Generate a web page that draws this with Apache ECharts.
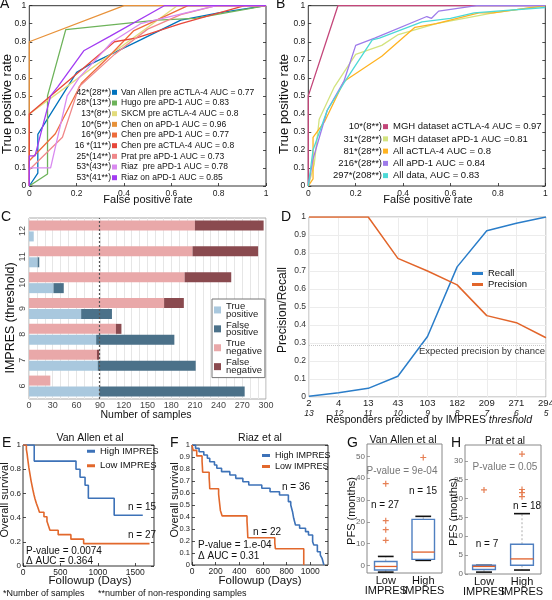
<!DOCTYPE html>
<html><head><meta charset="utf-8">
<script src="https://cdn.jsdelivr.net/npm/echarts@6/dist/echarts.min.js"></script>
<style>html,body{margin:0;padding:0;background:#fff}#c{width:552px;height:600px}</style>
</head><body><div id="c"></div>
<script>
const FONT = '"Liberation Sans", Arial, Helvetica, sans-serif';

// ---------- Panel A : ROC per dataset ----------
const namesA = ['Van Allen pre aCTLA-4 AUC = 0.77','Hugo pre aPD-1 AUC = 0.83','SKCM pre aCTLA-4 AUC = 0.8','Chen on aPD-1 AUC = 0.96','Chen pre aPD-1 AUC = 0.77','Chen pre aCTLA-4 AUC = 0.8','Prat pre aPD-1 AUC = 0.73','Riaz  pre aPD-1 AUC = 0.78','Riaz on aPD-1 AUC = 0.85'];
const prefixA = ['42*(28**)','28*(13**)','13*(8**)','10*(5**)','16*(9**)','16 *(11**)','25*(14**)','53*(43**)','53*(41**)'];
const colorsA = ['#0072BD','#6DB35A','#E3DC7C','#E8923A','#EE6C3B','#E8473A','#F0888A','#D98AF0','#A23BF2'];
const rocVanAllen = [[0,0],[0.036,0.071],[0.036,0.286],[0.2,0.63],[0.25,0.67],[0.47,0.81],[0.64,0.92],[0.8,0.96],[1,1]];
const rocHugo = [[0,0],[0.077,0.067],[0.077,0.5],[0.154,0.867],[0.54,0.92],[0.7,0.93],[1,1]];
const rocSKCM = [[0,0],[0,0.4],[0.625,1],[1,1]];
const rocChenOnPD1 = [[0,0],[0,0.8],[0.4,1],[1,1]];
const rocChenPrePD1 = [[0,0],[0,0.14],[0.11,0.29],[0.22,0.57],[0.33,0.71],[0.44,0.86],[0.67,1],[1,1]];
const rocChenPreCTLA4 = [[0,0],[0,0.4],[0.36,0.8],[0.45,0.82],[0.64,0.9],[0.91,1],[1,1]];
const rocPrat = [[0,0],[0,0.09],[0.07,0.18],[0.14,0.27],[0.21,0.55],[0.36,0.73],[0.5,0.87],[0.64,0.95],[0.79,1],[1,1]];
const rocRiazPre = [[0,0],[0,0.1],[0.09,0.1],[0.16,0.5],[0.21,0.6],[0.35,0.8],[0.47,0.9],[0.79,1],[1,1]];
const rocRiazOn = [[0,0],[0,0.167],[0.024,0.167],[0.09,0.5],[0.12,0.55],[0.23,0.75],[0.34,0.83],[0.57,1],[1,1]];
const rocA = [rocVanAllen, rocHugo, rocSKCM, rocChenOnPD1, rocChenPrePD1, rocChenPreCTLA4, rocPrat, rocRiazPre, rocRiazOn];

// ---------- Panel B : pooled ROC ----------
const namesB = ['MGH dataset aCTLA-4 AUC = 0.97','MGH dataset aPD-1 AUC =0.81','All aCTLA-4 AUC = 0.8','All aPD-1 AUC = 0.84','All data, AUC = 0.83'];
const prefixB = ['10*(8**)','31*(28**)','81*(28**)','216*(28**)','297*(208**)'];
const colorsB = ['#C4467A','#D3E37F','#FFB321','#9E7BEA','#4DD9D6'];
const rocMGHCTLA4 = [[0,0],[0,0.5],[0.125,1],[1,1]];
const rocMGHPD1 = [[0,0],[0.025,0.12],[0.046,0.37],[0.11,0.55],[0.2,0.73],[0.31,0.78],[0.38,0.84],[0.54,0.9],[0.78,0.96],[1,1]];
const rocAllCTLA4 = [[0,0],[0.02,0.04],[0.02,0.27],[0.07,0.36],[0.15,0.58],[0.31,0.72],[0.45,0.88],[0.54,0.9],[0.72,0.96],[0.78,0.96],[1,1]];
const rocAllPD1 = [[0,0],[0.02,0.15],[0.08,0.42],[0.15,0.58],[0.2,0.78],[0.28,0.82],[0.5,0.94],[0.52,0.93],[0.55,0.97],[0.71,1],[1,1]];
const rocAllData = [[0,0],[0.02,0.2],[0.08,0.42],[0.15,0.57],[0.27,0.81],[0.3,0.82],[0.48,0.91],[0.6,0.93],[0.7,0.96],[1,0.99]];
const rocB = [rocMGHCTLA4, rocMGHPD1, rocAllCTLA4, rocAllPD1, rocAllData];

// ---------- Panel C : confusion counts per threshold ----------
const thresholdsC = ['6','7','8','9','10','11','12'];
const truePositive  = [89, 87, 85, 66, 31, 11, 6];
const falsePositive = [184,124, 99, 39, 13, 2, 0];
const trueNegative  = [27, 86, 110, 171, 197, 207, 210];
const falseNegative = [0, 3, 7, 25, 59, 83, 87];
const respondersTotal = 89;

// ---------- Panel D : precision / recall ----------
const respondersPredicted = ['2','4','13','43','103','182','209','271','294'];
const thresholdsD = ['13','12','11','10','9','8','7','6','5'];
const recall    = [0.004, 0.024, 0.048, 0.115, 0.336, 0.723, 0.924, 0.965, 1.0];
const precision = [1, 1, 1, 0.77, 0.70, 0.623, 0.452, 0.413, 0.329];
const chancePrecision = 0.29;

// ---------- Panel E / F : Kaplan-Meier ----------
const kmVanAllenHigh = [[0,1],[150,0.867],[708,0.8],[762,0.733],[829,0.667],[873,0.56],[1218,0.42],[1600,0.42]];
const kmVanAllenLow = [[0,1],[45,0.963],[55,0.926],[62,0.889],[70,0.852],[78,0.815],[88,0.778],[98,0.741],[108,0.704],[120,0.667],[132,0.63],[145,0.593],[160,0.556],[178,0.519],[200,0.481],[220,0.444],[280,0.407],[320,0.37],[340,0.333],[360,0.296],[470,0.259],[640,0.222],[810,0.185],[1690,0.185]];
const kmRiazHigh = [[0,1],[30,0.972],[60,0.944],[100,0.917],[130,0.889],[150,0.861],[190,0.833],[210,0.806],[250,0.778],[320,0.75],[370,0.722],[430,0.694],[480,0.667],[590,0.639],[660,0.611],[740,0.583],[815,0.528],[835,0.5],[850,0.444],[860,0.389],[875,0.333],[910,0.306],[960,0.278],[985,0.25],[1020,0.194],[1030,0.167],[1060,0.111],[1085,0.083],[1100,0.056],[1115,0]];
const kmRiazLow = [[0,1],[10,0.955],[40,0.909],[85,0.864],[88,0.818],[90,0.773],[145,0.727],[148,0.682],[150,0.636],[225,0.591],[230,0.545],[235,0.5],[240,0.455],[255,0.409],[465,0.364],[468,0.318],[470,0.273],[472,0.227],[700,0.182],[705,0.136],[945,0]];

// ---------- Panel G / H : PFS boxplots ----------
const boxCats = ['Low\nIMPRES','High\nIMPRES'];
// [lower whisker, Q1, median, Q3, upper whisker]
const pfsVanAllenBox = [[-3.1,-2.1,-0.5,1.8,4.1],[2.3,2.75,6.1,21.1,22.5]];
const pfsVanAllenOut = [[0,11.5],[0,16.4],[0,20.5],[0,37.5],[1,49.5]];
const pfsPratBox = [[0.5,1.2,2.0,2.3,2.3],[1.05,2.3,4.0,7.9,16.0]];
const pfsPratOut = [[0,22.3],[1,31.8],[1,22.4],[1,21.6],[1,20.5]];

// ================= helpers =================
function merge(a,b){const r=Object.assign({},a);for(const k in b){const v=b[k];if(v&&typeof v==='object'&&!Array.isArray(v)&&r[k]&&typeof r[k]==='object'&&!Array.isArray(r[k]))r[k]=merge(r[k],v);else r[k]=v;}return r;}
const fmt = v => String(+(+v).toFixed(2));
function vAxis(grid,o){return merge({type:'value',gridIndex:grid,axisLine:{show:false},axisTick:{show:true,inside:true,length:3,lineStyle:{color:'#222',width:0.8}},axisLabel:{fontSize:8.5,color:'#222',margin:3,fontFamily:FONT,hideOverlap:false,formatter:fmt},splitLine:{show:false}},o);}
function mirror(grid,o){return merge({type:'value',gridIndex:grid,position:'right',axisLine:{show:false},axisTick:{show:true,inside:true,length:3,lineStyle:{color:'#222',width:0.8}},axisLabel:{show:false},splitLine:{show:false}},o);}
function txt(x,y,s,size,o){o=o||{};return {type:'text',x:x,y:y,rotation:o.rot||0,scaleX:o.sx||1,scaleY:o.sy||1,silent:true,z:50,style:{text:s,fontSize:size,fontFamily:FONT,fill:o.color||'#111',align:o.align||'left',verticalAlign:'middle',fontStyle:o.italic?'italic':'normal',rich:o.rich}};}
function lineSeries(name,data,color,xi,yi,extra){return merge({type:'line',name:name,data:data,xAxisIndex:xi,yAxisIndex:yi,showSymbol:false,symbol:'none',smooth:false,lineStyle:{color:color,width:1.3},itemStyle:{color:color},z:3},extra||{});}
function boxRender(params, api){
  const i=api.value(0);
  const pLo=api.coord([i,api.value(1)]),pQ1=api.coord([i,api.value(2)]),pMed=api.coord([i,api.value(3)]),pQ3=api.coord([i,api.value(4)]),pHi=api.coord([i,api.value(5)]);
  const band=api.size([1,0])[0];const bw=band*0.6,cw=band*0.42,cx=pQ1[0];
  const wh={stroke:'#9a9a9a',lineWidth:0.8,lineDash:[2,2]};
  return {type:'group',children:[
    {type:'line',shape:{x1:cx,y1:pQ3[1],x2:cx,y2:pHi[1]},style:wh},
    {type:'line',shape:{x1:cx,y1:pQ1[1],x2:cx,y2:pLo[1]},style:wh},
    {type:'line',shape:{x1:cx-cw/2,y1:pHi[1],x2:cx+cw/2,y2:pHi[1]},style:{stroke:'#111',lineWidth:1.6}},
    {type:'line',shape:{x1:cx-cw/2,y1:pLo[1],x2:cx+cw/2,y2:pLo[1]},style:{stroke:'#111',lineWidth:1.6}},
    {type:'rect',shape:{x:cx-bw/2,y:pQ3[1],width:bw,height:pQ1[1]-pQ3[1]},style:{fill:'none',stroke:'#4F7FC0',lineWidth:1.4}},
    {type:'line',shape:{x1:cx-bw/2,y1:pMed[1],x2:cx+bw/2,y2:pMed[1]},style:{stroke:'#E0602A',lineWidth:1.3}}
  ]};
}
const boxData = arr => arr.map((b,i)=>[i].concat(b));
const plusSym = 'path://M0,5L10,5M5,0L5,10';

// ================= axes =================
const xAxis = [
  vAxis(0,{min:0,max:1,interval:0.2}),
  vAxis(1,{min:0,max:1,interval:0.2}),
  {type:'value',gridIndex:2,min:0,max:300,interval:30,axisLine:{show:false},axisTick:{show:false},
    axisLabel:{fontSize:9,color:'#444',margin:2,fontFamily:FONT},
    splitLine:{show:true,lineStyle:{color:'#e6e6e6',width:1}},minorTick:{show:false,splitNumber:3},minorSplitLine:{show:true,lineStyle:{color:'#e6e6e6',width:1}}},
  {type:'category',gridIndex:3,data:respondersPredicted,boundaryGap:false,axisLine:{show:false},axisTick:{show:false},
    splitLine:{show:true,lineStyle:{color:'#ececec'}},
    axisLabel:{margin:2,interval:0,hideOverlap:false,fontFamily:FONT,formatter:(v,i)=>'{a|'+v+'}\n{b|'+thresholdsD[i]+'}',
      rich:{a:{fontSize:9.5,color:'#222',lineHeight:9.5,fontFamily:FONT},b:{fontSize:8.5,color:'#222',fontStyle:'italic',lineHeight:9.5,fontFamily:FONT}}}},
  vAxis(4,{min:0,max:1750,interval:500,axisLabel:{showMaxLabel:false,margin:2}}),
  vAxis(5,{min:0,max:1150,interval:200,axisLabel:{showMaxLabel:false,margin:2}}),
  {type:'category',gridIndex:6,data:boxCats,axisLine:{show:false},axisTick:{show:false},axisLabel:{fontSize:11,lineHeight:10,color:'#111',margin:3,interval:0,fontFamily:FONT}},
  {type:'category',gridIndex:7,data:boxCats,axisLine:{show:false},axisTick:{show:false},axisLabel:{fontSize:11,lineHeight:10,color:'#111',margin:3,interval:0,fontFamily:FONT}}
];
const yAxis = [
  vAxis(0,{min:0,max:1,interval:0.1}),
  vAxis(1,{min:0,max:1,interval:0.1}),
  {type:'category',gridIndex:2,data:thresholdsC,axisLine:{show:false},axisTick:{show:false},axisLabel:{rotate:90,fontSize:9,color:'#444',margin:2,fontFamily:FONT}},
  {type:'value',gridIndex:3,min:0,max:1,interval:0.1,axisLine:{show:false},axisTick:{show:false},splitLine:{show:true,lineStyle:{color:'#ececec'}},axisLabel:{fontSize:8.5,color:'#333',margin:3,fontFamily:FONT,formatter:fmt}},
  vAxis(4,{min:0,max:1,interval:0.2,axisLabel:{margin:2,fontSize:8}}),
  vAxis(5,{min:0,max:1,interval:0.1,axisLabel:{margin:2,fontSize:7.5}}),
  vAxis(6,{min:-3.5,max:55.7,splitNumber:5,minInterval:10,maxInterval:10,axisLabel:{showMinLabel:false,showMaxLabel:false,color:'#666',fontSize:8,margin:2},axisTick:{lineStyle:{color:'#888'}}}),
  vAxis(7,{min:0,max:34.2,interval:5,axisLabel:{showMaxLabel:false,color:'#666',fontSize:8,margin:2},axisTick:{lineStyle:{color:'#888'}}}),
  mirror(0,{min:0,max:1,interval:0.1}),
  mirror(1,{min:0,max:1,interval:0.1}),
  mirror(4,{min:0,max:1,interval:0.2}),
  mirror(5,{min:0,max:1,interval:0.1})
];

// ================= series =================
const series = [];
rocA.forEach((d,i)=>series.push(lineSeries(namesA[i],d,colorsA[i],0,0)));
rocB.forEach((d,i)=>series.push(lineSeries(namesB[i],d,colorsB[i],1,1)));
const barBase = {type:'bar',xAxisIndex:2,yAxisIndex:2,barWidth:10,barGap:'10%'};
series.push(merge(barBase,{name:'True negative',stack:'neg',data:trueNegative,itemStyle:{color:'#E9A8A9'}}));
series.push(merge(barBase,{name:'False negative',stack:'neg',data:falseNegative,itemStyle:{color:'#8A4A4F'}}));
series.push(merge(barBase,{name:'True positive',stack:'pos',data:truePositive,itemStyle:{color:'#A9C8DE'}}));
series.push(merge(barBase,{name:'False positive',stack:'pos',data:falsePositive,itemStyle:{color:'#4B7189'},
  markLine:{silent:true,symbol:'none',label:{show:false},lineStyle:{color:'#555',type:[2,2],width:1.2},data:[{xAxis:respondersTotal}]}}));
series.push(lineSeries('Recall',recall,'#2A7DC9',3,3,{lineStyle:{width:1.5}}));
series.push(lineSeries('Precision',precision,'#E2652A',3,3,{lineStyle:{width:1.5},
  markLine:{silent:true,symbol:'none',label:{show:false},lineStyle:{color:'#c8c8c8',type:'dotted',width:1},data:[{yAxis:chancePrecision}]}}));
series.push(lineSeries('High IMPRES',kmVanAllenHigh,'#3D72B8',4,4,{step:'end',lineStyle:{width:1.6}}));
series.push(lineSeries('Low IMPRES',kmVanAllenLow,'#E2682C',4,4,{step:'end',lineStyle:{width:1.6}}));
series.push(lineSeries('High IMPRES',kmRiazHigh,'#3D72B8',5,5,{step:'end',lineStyle:{width:1.6}}));
series.push(lineSeries('Low IMPRES',kmRiazLow,'#E2682C',5,5,{step:'end',lineStyle:{width:1.6}}));
[[6,pfsVanAllenBox,pfsVanAllenOut],[7,pfsPratBox,pfsPratOut]].forEach(([g,box,out])=>{
  series.push({type:'custom',name:'PFS box '+g,xAxisIndex:g,yAxisIndex:g,renderItem:boxRender,data:boxData(box),encode:{x:0,y:[1,2,3,4,5]},z:3});
  series.push({type:'scatter',name:'PFS outliers '+g,xAxisIndex:g,yAxisIndex:g,data:out,symbol:plusSym,symbolSize:6,itemStyle:{color:'none',borderColor:'#E0602A',borderWidth:1.2},z:4});
});

// ================= legends =================
const legBase = {orient:'vertical',padding:0,itemGap:0,icon:'rect',selectedMode:false};
const legend = [
  merge(legBase,{data:namesA,left:112,top:87,itemWidth:5,itemHeight:5,textStyle:{fontSize:8.5,lineHeight:10.67,fontFamily:FONT,color:'#111',padding:[0,0,0,-1]}}),
  merge(legBase,{data:namesB,left:383,top:120.5,itemWidth:5,itemHeight:5,textStyle:{fontSize:9.5,lineHeight:12.25,fontFamily:FONT,color:'#111'}}),
  merge(legBase,{data:['True positive','False positive','True negative','False negative'],left:212,top:299,padding:[2,3,2,2],itemGap:1,
    itemWidth:7,itemHeight:7,borderColor:'#777',borderWidth:1,backgroundColor:'#fff',
    formatter:n=>n.replace(' ','\n'),textStyle:{fontSize:9.5,lineHeight:7.9,fontFamily:FONT,color:'#222'}}),
  merge(legBase,{data:['Recall','Precision'],left:472,top:268,itemWidth:11,itemHeight:3,textStyle:{fontSize:9.5,lineHeight:11,fontFamily:FONT,color:'#111'}}),
  merge(legBase,{data:['High IMPRES','Low IMPRES'],left:87,top:444,itemWidth:8,itemHeight:3,textStyle:{fontSize:9.5,lineHeight:14.5,fontFamily:FONT,color:'#111'}}),
  merge(legBase,{data:['High IMPRES','Low IMPRES'],left:262,top:450,itemWidth:8,itemHeight:3,textStyle:{fontSize:9,lineHeight:11,fontFamily:FONT,color:'#111'}})
];

// ================= text =================
const R = Math.PI/2;
const graphic = [
  txt(0,4,'A',14), txt(276,4,'B',14), txt(1,217,'C',14), txt(281,217,'D',14),
  txt(2,443,'E',14), txt(170,443,'F',14), txt(347,443,'G',14), txt(451,443,'H',14),
  txt(148,200,'False positive rate',11,{align:'center'}),
  txt(428,200,'False positive rate',11,{align:'center'}),
  txt(7,104,'True positive rate',13,{align:'center',rot:R}),
  txt(284,104,'True positive rate',13,{align:'center',rot:R}),
  txt(11,318,'IMPRES (threshold)',12.5,{align:'center',rot:R}),
  txt(146,415,'Number of samples',10.5,{align:'center'}),
  txt(283,310,'Precision/Recall',12,{align:'center',rot:R}),
  txt(429,420,'Responders predicted by IMPRES {i|threshold}',10.5,{align:'center',rich:{i:{fontStyle:'italic',fontSize:10.5,fontFamily:FONT}}}),
  txt(482,351,'Expected precision by chance',9.5,{align:'center',color:'#333'}),
  txt(90,438,'Van Allen et al',10.5,{align:'center'}),
  txt(260,438,'Riaz et al',10.5,{align:'center'}),
  txt(403,440,'Van Allen et al',10.5,{align:'center'}),
  txt(505,441,'Prat et al',10,{align:'center'}),
  txt(5,500,'Overall survival',11,{align:'center',rot:R}),
  txt(175,500,'Overall survival',11,{align:'center',rot:R}),
  txt(90,581,'Followup (Days)',11.5,{align:'center'}),
  txt(260,581,'Followup (Days)',11.5,{align:'center'}),
  txt(352,511,'PFS (months)',11,{align:'center',rot:R}),
  txt(454,512,'PFS (months)',11,{align:'center',rot:R}),
  txt(128,507,'n = 15',10),
  txt(128,535,'n = 27',10),
  txt(26,551.5,'P-value = 0.0074',10),
  txt(26,561.5,'Δ AUC = 0.364',10),
  txt(282,487,'n = 36',10),
  txt(253,532,'n = 22',10),
  txt(198,545,'P-value = 1.e-04',10),
  txt(198,556,'Δ AUC = 0.31',10),
  txt(402,471,'P-value = 9e-04',10,{align:'center',color:'#777'}),
  txt(385,505,'n = 27',10,{align:'center'}),
  txt(423,491,'n = 15',10,{align:'center'}),
  txt(505,467,'P-value = 0.05',10,{align:'center',color:'#777'}),
  txt(487,544,'n = 7',10,{align:'center'}),
  txt(527,506,'n = 18',10,{align:'center'}),
  txt(3,594,'*Number of samples',9),
  txt(98,594,'**number of non-responding samples',9)
];
prefixA.forEach((p,i)=>graphic.push(txt(111,92.3+i*10.67,p,8.5,{align:'right'})));
prefixB.forEach((p,i)=>graphic.push(txt(382,126.7+i*12.25,p,9.5,{align:'right'})));

// ================= grids =================
const gridDefs = [
  [29.3,5.7,236.7,180.3,'#333'],[308.3,5.7,237,180.3,'#333'],[29,218,237,181,'#aaa'],[309,217,237,180,'#aaa'],
  [23,445,131,121,'#333'],[192,445,136,120,'#333'],[367,444,75,129,'#888'],[465,445,76,129,'#888']
];
const grid = gridDefs.map(g=>({left:g[0],top:g[1],width:g[2],height:g[3],show:true,borderColor:g[4],borderWidth:1,backgroundColor:'transparent',containLabel:false,outerBoundsMode:'none'}));

const chart = echarts.init(document.getElementById('c'),null,{renderer:'canvas'});
chart.setOption({animation:false,backgroundColor:'#fff',textStyle:{fontFamily:FONT},tooltip:{show:false},
  grid:grid,xAxis:xAxis,yAxis:yAxis,series:series,legend:legend,graphic:graphic});
</script></body></html>
